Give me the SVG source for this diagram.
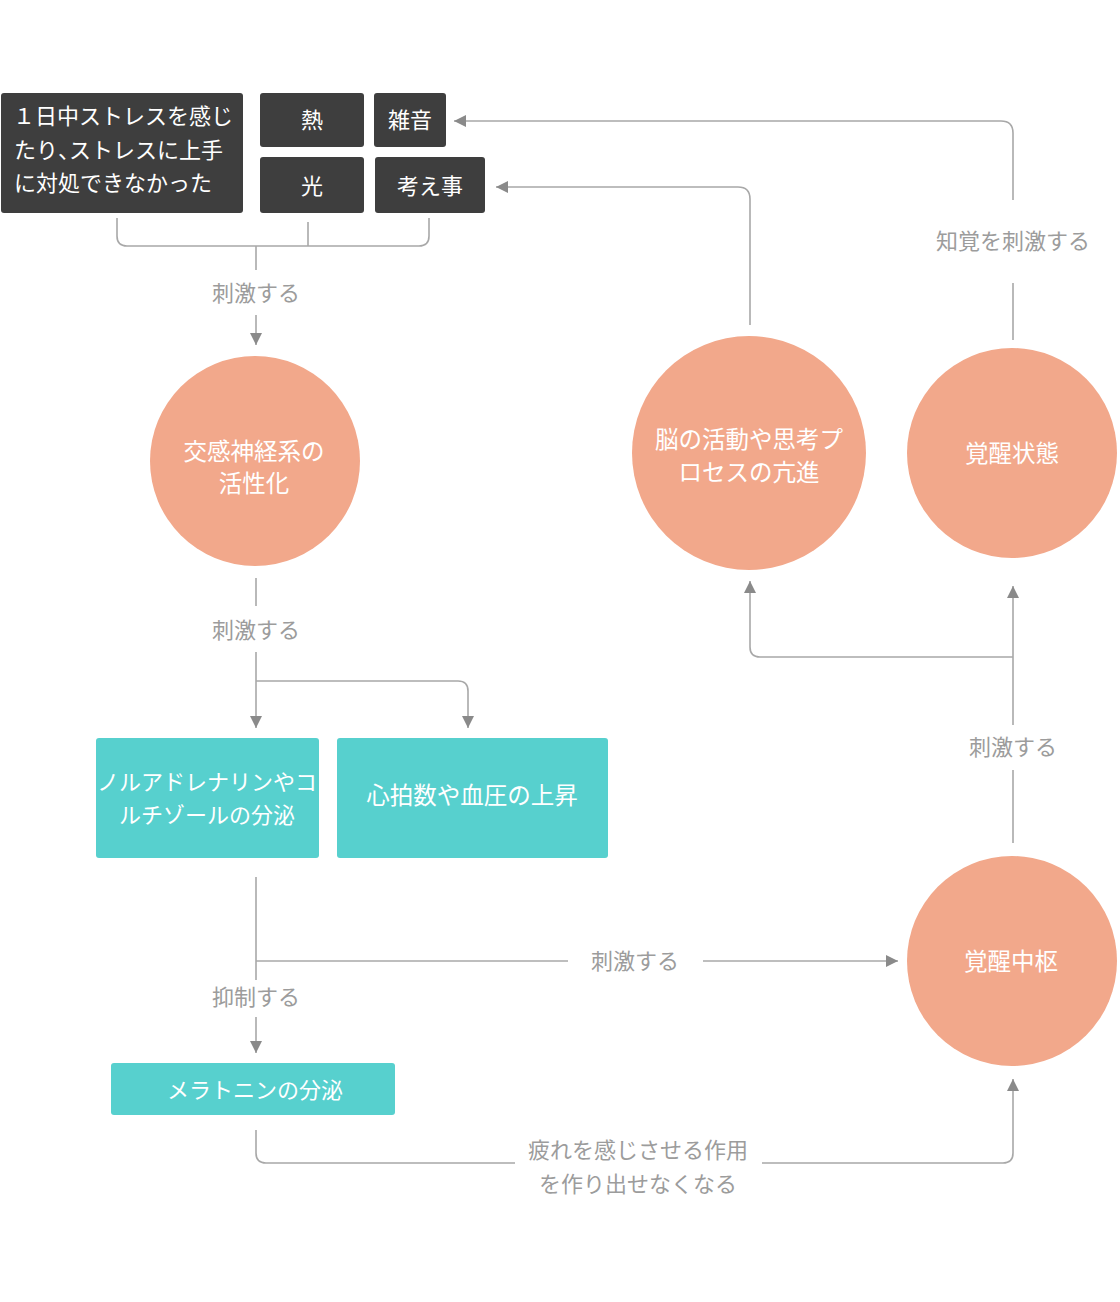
<svg xmlns="http://www.w3.org/2000/svg" width="1120" height="1302" viewBox="0 0 1120 1302">
<defs>
<style>
text{font-family:"Noto Sans CJK JP","Noto Sans",sans-serif;}
.dark{fill:#3e3e3e;}
.teal{fill:#57d0ce;}
.circ{fill:#f2a88b;}
.wt{fill:#ffffff;font-size:23.5px;text-anchor:middle;}
.wb{fill:#ffffff;font-size:22px;text-anchor:middle;}
.wl{fill:#ffffff;font-size:22px;}
.lbl{fill:#9c9c9c;font-size:22px;text-anchor:middle;}
.ln{fill:none;stroke:#a8a8a8;stroke-width:1.6;}
.arr{fill:none;stroke:#a8a8a8;stroke-width:1.6;marker-end:url(#ah);}
.halt{font-feature-settings:"halt";}
</style>
<marker id="ah" markerWidth="12" markerHeight="12" refX="10" refY="5" orient="auto" markerUnits="userSpaceOnUse" viewBox="0 0 10 10">
<path d="M0,0 L10,5 L0,10 Z" fill="#8a8a8a"/>
</marker>
</defs>
<rect width="1120" height="1302" fill="#ffffff"/>

<g id="connectors">
<path class="ln" d="M117,218 V236 Q117,246 127,246 H419 Q429,246 429,236 V218"/>
<path class="ln" d="M308,222 V246"/>
<path class="ln" d="M256,246 V270"/>
<path class="arr" d="M256,315 V345"/>
<path class="ln" d="M256,578 V606"/>
<path class="arr" d="M256,652 V728"/>
<path class="arr" d="M256,681 H458 Q468,681 468,691 V728"/>
<path class="ln" d="M256,877 V980"/>
<path class="ln" d="M256,961 H568"/>
<path class="arr" d="M703,961 H898"/>
<path class="arr" d="M256,1017 V1053"/>
<path class="ln" d="M256,1130 V1153 Q256,1163 266,1163 H515"/>
<path class="arr" d="M762,1163 H1003 Q1013,1163 1013,1153 V1079"/>
<path class="ln" d="M1013,843 V770"/>
<path class="arr" d="M1013,725 V586"/>
<path class="arr" d="M1013,657 H760 Q750,657 750,647 V581"/>
<path class="ln" d="M1013,340 V283"/>
<path class="arr" d="M1013,200 V133 Q1013,121 1001,121 H454"/>
<path class="arr" d="M750,325 V199 Q750,187 738,187 H496"/>
<text class="lbl" x="256" y="301">刺激する</text>
<text class="lbl" x="256" y="638">刺激する</text>
<text class="lbl" x="635" y="969">刺激する</text>
<text class="lbl" x="256" y="1005">抑制する</text>
<text class="lbl" x="638" y="1158">疲れを感じさせる作用</text>
<text class="lbl" x="638" y="1192">を作り出せなくなる</text>
<text class="lbl" x="1013" y="755">刺激する</text>
<text class="lbl" x="1013" y="249">知覚を刺激する</text>
</g>

<g id="n-stress">
<rect class="dark" x="1" y="93" width="242" height="120" rx="3"/>
<text class="wl" x="13" y="124">１日中ストレスを感じ</text>
<text class="wl" x="14" y="158">たり<tspan class="halt">、</tspan>ストレスに上手</text>
<text class="wl" x="14" y="191">に対処できなかった</text>
</g>
<g id="n-heat">
<rect class="dark" x="260" y="93" width="104" height="54" rx="3"/>
<text class="wb" x="312" y="128">熱</text>
</g>
<g id="n-noise">
<rect class="dark" x="374" y="93" width="72" height="54" rx="3"/>
<text class="wb" x="410" y="128">雑音</text>
</g>
<g id="n-light">
<rect class="dark" x="260" y="157" width="104" height="56" rx="3"/>
<text class="wb" x="312" y="194">光</text>
</g>
<g id="n-thought">
<rect class="dark" x="375" y="157" width="110" height="56" rx="3"/>
<text class="wb" x="430" y="194">考え事</text>
</g>

<g id="n-sympathetic">
<circle class="circ" cx="255" cy="461" r="105"/>
<text class="wt" x="254" y="460">交感神経系の</text>
<text class="wt" x="254" y="492">活性化</text>
</g>
<g id="n-brain">
<circle class="circ" cx="749" cy="453" r="117"/>
<text class="wt" x="749" y="448">脳の活動や思考プ</text>
<text class="wt" x="749" y="481">ロセスの亢進</text>
</g>
<g id="n-awake">
<circle class="circ" cx="1012" cy="453" r="105"/>
<text class="wt" x="1012" y="462">覚醒状態</text>
</g>
<g id="n-center">
<circle class="circ" cx="1012" cy="961" r="105"/>
<text class="wt" x="1011" y="970">覚醒中枢</text>
</g>

<g id="n-noradrenaline">
<rect class="teal" x="96" y="738" width="223" height="120" rx="3"/>
<text class="wb" x="207" y="790">ノルアドレナリンやコ</text>
<text class="wb" x="207" y="823">ルチゾールの分泌</text>
</g>
<g id="n-heart">
<rect class="teal" x="337" y="738" width="271" height="120" rx="3"/>
<text class="wt" x="472" y="804">心拍数や血圧の上昇</text>
</g>
<g id="n-melatonin">
<rect class="teal" x="111" y="1063" width="284" height="52" rx="3"/>
<text class="wb" x="255" y="1098">メラトニンの分泌</text>
</g>
</svg>
